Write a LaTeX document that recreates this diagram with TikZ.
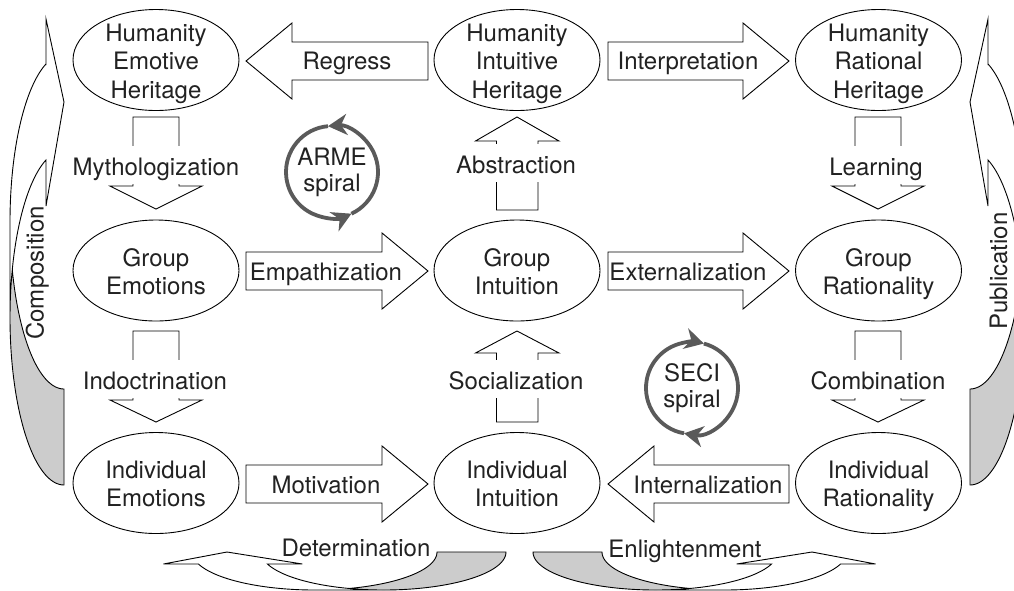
\documentclass[tikz,border=0pt]{standalone}
\usepackage{fontspec}
\setmainfont{TeX Gyre Heros}
\usetikzlibrary{shapes.geometric,arrows.meta}
\definecolor{txt}{HTML}{222222}
\definecolor{grayf}{HTML}{CCCCCC}
\definecolor{spiralc}{HTML}{5A5A5A}
\tikzset{
 blk/.style={draw=black, line width=0.9pt, line join=miter, fill=white},
 cur/.style={draw=black, line width=0.9pt, line join=miter},
 ell/.style={draw, ellipse, line width=0.9pt, minimum width=166pt, minimum height=101pt, inner sep=0pt},
 lbl/.style={align=center, font=\fontsize{24}{28.5}\selectfont, text=txt, inner sep=0pt, yshift=-3.5pt},
 alab/.style={font=\fontsize{24}{28.5}\selectfont, text=txt, anchor=base, inner sep=0pt},
 vlab/.style={font=\fontsize{24}{28.5}\selectfont, text=txt, anchor=base, fill=white, inner xsep=3pt, inner ysep=6pt, text height=23pt, text depth=3pt},
 spl/.style={align=center, font=\fontsize{24}{26}\selectfont, text=txt, inner sep=0pt},
 spir/.style={draw=spiralc, line width=3.8pt, -{Stealth[length=19pt, width=21pt, inset=6pt]}},
}
% side curved arrow (left one, local coordinates)
\newcommand{\sidearrow}{%
 \fill[grayf] plot[domain=90:196.7,samples=40] ({64+54*cos(\x)},{317.7+167.3*sin(\x)})
   -- plot[domain=163.3:90,samples=40] ({64+54*cos(\x)},{221.7+167.3*sin(\x)}) -- cycle;
 \draw[cur] plot[domain=163.3:90,samples=40] ({64+54*cos(\x)},{221.7+167.3*sin(\x)})
   -- (64,485) -- plot[domain=90:250.5,samples=80] ({64+54*cos(\x)},{317.7+167.3*sin(\x)})
   -- (46,206) -- (64,102) -- (46,19) -- (46,65)
   -- plot[domain=250.5:180,samples=40] ({64+54*cos(\x)},{221.7+167.3*sin(\x)}) -- (10,317.7);
}
% bottom curved arrow (right one, local coordinates)
\newcommand{\botarrow}{%
 \fill[grayf] plot[domain=180:73.6,samples=40] ({655.4+122.4*cos(\x)},{552+38*sin(\x)})
   -- plot[domain=106.4:180,samples=40] ({724.4+122.4*cos(\x)},{552+38*sin(\x)}) -- cycle;
 \draw[cur] plot[domain=106.4:180,samples=40] ({724.4+122.4*cos(\x)},{552+38*sin(\x)})
   -- (533,552) -- plot[domain=180:18.4,samples=80] ({655.4+122.4*cos(\x)},{552+38*sin(\x)})
   -- (736.6,564) -- (812,552) -- (875.6,564) -- (840.6,564)
   -- plot[domain=18.4:90,samples=40] ({724.4+122.4*cos(\x)},{552+38*sin(\x)}) -- (655.4,590);
}
\begin{document}
\begin{tikzpicture}[x=1pt,y=-1pt]
\clip (0,0) rectangle (1014,590);
\fill[white] (0,0) rectangle (1014,590);

% curved arrows
\sidearrow
\begin{scope}[xshift=1034pt, xscale=-1]\sidearrow\end{scope}
\botarrow
\begin{scope}[xshift=1039pt, xscale=-1]\botarrow\end{scope}

\node[alab, rotate=90] (composition) at (43.5,273) {Composition};
\node[alab, rotate=90] (publication) at (1007,271) {Publication};
\node[alab] (determination) at (356,556) {Determination};
\node[alab] (enlightenment) at (685,557) {Enlightenment};

% ellipses
\node[ell, label={[lbl]center:{Humanity\\Emotive\\Heritage\vphantom{g}}}] (hem) at (156,60) {};
\node[ell, label={[lbl]center:{Humanity\\Intuitive\\Heritage\vphantom{g}}}] (hin) at (517,60) {};
\node[ell, label={[lbl]center:{Humanity\\Rational\\Heritage\vphantom{g}}}] (hra) at (878.5,60) {};
\node[ell, label={[lbl]center:{Group\\Emotions\vphantom{g}}}] (gem) at (156,270.5) {};
\node[ell, label={[lbl]center:{Group\\Intuition\vphantom{g}}}] (gin) at (517,270.5) {};
\node[ell, label={[lbl]center:{Group\\Rationality\vphantom{g}}}] (gra) at (878.5,270.5) {};
\node[ell, label={[lbl]center:{Individual\\Emotions\vphantom{g}}}] (iem) at (156,483) {};
\node[ell, label={[lbl]center:{Individual\\Intuition\vphantom{g}}}] (iin) at (517,483) {};
\node[ell, label={[lbl]center:{Individual\\Rationality\vphantom{g}}}] (ira) at (878.5,483) {};

% horizontal block arrows
\draw[blk] (428,42) -- (292,42) -- (292,23) -- (246,61) -- (292,99) -- (292,80) -- (428,80) -- cycle;
\node[alab] (regress) at (347,69) {Regress};
\draw[blk] (608,42) -- (743,42) -- (743,23) -- (789,61) -- (743,99) -- (743,80) -- (608,80) -- cycle;
\node[alab] (interpretation) at (688,69) {Interpretation};
\draw[blk] (246,252) -- (382,252) -- (382,233) -- (428,271) -- (382,309) -- (382,290) -- (246,290) -- cycle;
\node[alab] (empathization) at (326,280) {Empathization};
\draw[blk] (608,252) -- (743,252) -- (743,233) -- (789,271) -- (743,309) -- (743,290) -- (608,290) -- cycle;
\node[alab] (externalization) at (688,280) {Externalization};
\draw[blk] (246,465) -- (382,465) -- (382,446) -- (428,484) -- (382,522) -- (382,503) -- (246,503) -- cycle;
\node[alab] (motivation) at (326,493) {Motivation};
\draw[blk] (789,465) -- (654,465) -- (654,446) -- (608,484) -- (654,522) -- (654,503) -- (789,503) -- cycle;
\node[alab] (internalization) at (708,493) {Internalization};

% vertical block arrows
\draw[blk] (133,117) -- (179,117) -- (179,186) -- (202,186) -- (156,209) -- (110,186) -- (133,186) -- cycle;
\node[vlab] (mythologization) at (156,175) {Mythologization};
\draw[blk] (133,331) -- (179,331) -- (179,400) -- (202,400) -- (156,422) -- (110,400) -- (133,400) -- cycle;
\node[vlab] (indoctrination) at (155,389) {Indoctrination};
\draw[blk] (855,117) -- (901,117) -- (901,186) -- (924,186) -- (878,209) -- (832,186) -- (855,186) -- cycle;
\node[vlab] (learning) at (876,175) {Learning};
\draw[blk] (855,331) -- (901,331) -- (901,400) -- (924,400) -- (878,422) -- (832,400) -- (855,400) -- cycle;
\node[vlab] (combination) at (878,389) {Combination};
\draw[blk] (496.5,210) -- (538,210) -- (538,141) -- (559,141) -- (517,117) -- (475.5,141) -- (496.5,141) -- cycle;
\node[vlab] (abstraction) at (516,173) {Abstraction};
\draw[blk] (496.5,422) -- (538,422) -- (538,353) -- (559,353) -- (517,331) -- (475.5,353) -- (496.5,353) -- cycle;
\node[vlab] (socialization) at (516,389) {Socialization};

% spirals
\node[spl] (arme) at (332,172) {ARME\\spiral};
\draw[spir] ([shift={(arme.center)}]65:46) arc[start angle=65, end angle=-95, radius=46];
\draw[spir] ([shift={(arme.center)}]265:46) arc[start angle=265, end angle=65, radius=46];
\node[spl] (seci) at (692,388) {SECI\\spiral};
\draw[spir] ([shift={(seci.center)}]100:46) arc[start angle=100, end angle=285, radius=46];
\draw[spir] ([shift={(seci.center)}]285:46) arc[start angle=285, end angle=460, radius=46];
\end{tikzpicture}
\end{document}
